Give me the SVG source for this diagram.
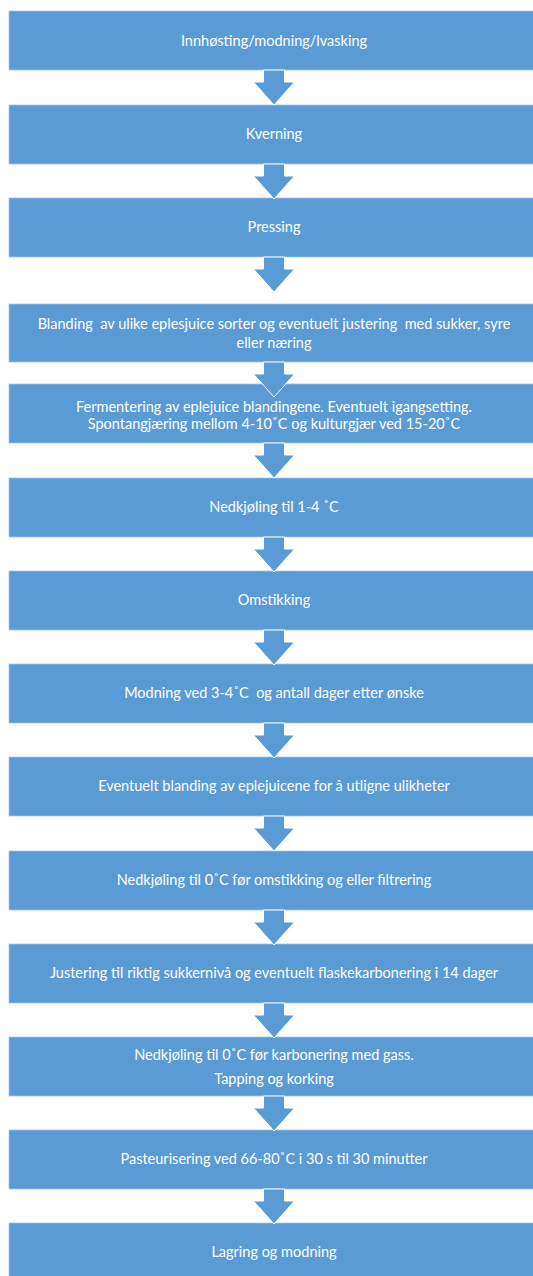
<svg xmlns="http://www.w3.org/2000/svg" width="533" height="1276" viewBox="0 0 533 1276">
<style>
.box{fill:#5B9BD5;stroke:#A3C4E8;stroke-width:0.8}
.t{font-family:Lato,"Open Sans","Liberation Sans",sans-serif;font-size:14.5px;fill:#FFFFFF;text-anchor:middle;white-space:pre}
.arr{fill:#5B9BD5;stroke:#FFFFFF;stroke-width:1}
</style>
<defs>
<path id="ar" d="M263.5,0 L284.5,0 L284.5,12 L294.5,12 L274,35 L253.5,12 L263.5,12 Z"/>
</defs>
<rect width="533" height="1276" fill="#FFFFFF"/>
<g id="n1"><rect class="box" x="9" y="11" width="530" height="59"/><text class="t" x="274" y="46">Innhøsting/modning/lvasking</text></g>
<g id="n2"><rect class="box" x="9" y="105" width="530" height="59"/><text class="t" x="274" y="139">Kverning</text></g>
<g id="n3"><rect class="box" x="9" y="198" width="530" height="59"/><text class="t" x="274" y="232">Pressing</text></g>
<g id="n4"><rect class="box" x="9" y="304" width="530" height="58"/><text class="t" x="274" y="329">Blanding  av ulike eplesjuice sorter og eventuelt justering  med sukker, syre</text><text class="t" x="274" y="348">eller næring</text></g>
<g id="n5"><rect class="box" x="9" y="384" width="530" height="59"/><text class="t" x="274" y="412">Fermentering av eplejuice blandingene. Eventuelt igangsetting.</text><text class="t" x="274" y="429">Spontangjæring mellom 4-10˚C og kulturgjær ved 15-20˚C</text></g>
<g id="n6"><rect class="box" x="9" y="478" width="530" height="59"/><text class="t" x="274" y="512">Nedkjøling til 1-4 ˚C</text></g>
<g id="n7"><rect class="box" x="9" y="571" width="530" height="59"/><text class="t" x="274" y="605">Omstikking</text></g>
<g id="n8"><rect class="box" x="9" y="664" width="530" height="59"/><text class="t" x="274" y="698">Modning ved 3-4˚C  og antall dager etter ønske</text></g>
<g id="n9"><rect class="box" x="9" y="757" width="530" height="59"/><text class="t" x="274" y="791">Eventuelt blanding av eplejuicene for å utligne ulikheter</text></g>
<g id="n10"><rect class="box" x="9" y="851" width="530" height="59"/><text class="t" x="274" y="885">Nedkjøling til 0˚C før omstikking og eller filtrering</text></g>
<g id="n11"><rect class="box" x="9" y="944" width="530" height="59"/><text class="t" x="274" y="978">Justering til riktig sukkernivå og eventuelt flaskekarbonering i 14 dager</text></g>
<g id="n12"><rect class="box" x="9" y="1037" width="530" height="59"/><text class="t" x="274" y="1060">Nedkjøling til 0˚C før karbonering med gass.</text><text class="t" x="274" y="1084">Tapping og korking</text></g>
<g id="n13"><rect class="box" x="9" y="1130" width="530" height="59"/><text class="t" x="274" y="1164">Pasteurisering ved 66-80˚C i 30 s til 30 minutter</text></g>
<g id="n14"><rect class="box" x="9" y="1223" width="530" height="59"/><text class="t" x="274" y="1257">Lagring og modning</text></g>
<g id="connectors">
<use href="#ar" class="arr" y="70"/>
<use href="#ar" class="arr" y="164"/>
<use href="#ar" class="arr" y="257"/>
<use href="#ar" class="arr" y="362"/>
<use href="#ar" class="arr" y="443"/>
<use href="#ar" class="arr" y="537"/>
<use href="#ar" class="arr" y="630"/>
<use href="#ar" class="arr" y="723"/>
<use href="#ar" class="arr" y="816"/>
<use href="#ar" class="arr" y="910"/>
<use href="#ar" class="arr" y="1003"/>
<use href="#ar" class="arr" y="1096"/>
<use href="#ar" class="arr" y="1189"/>
</g>
</svg>
